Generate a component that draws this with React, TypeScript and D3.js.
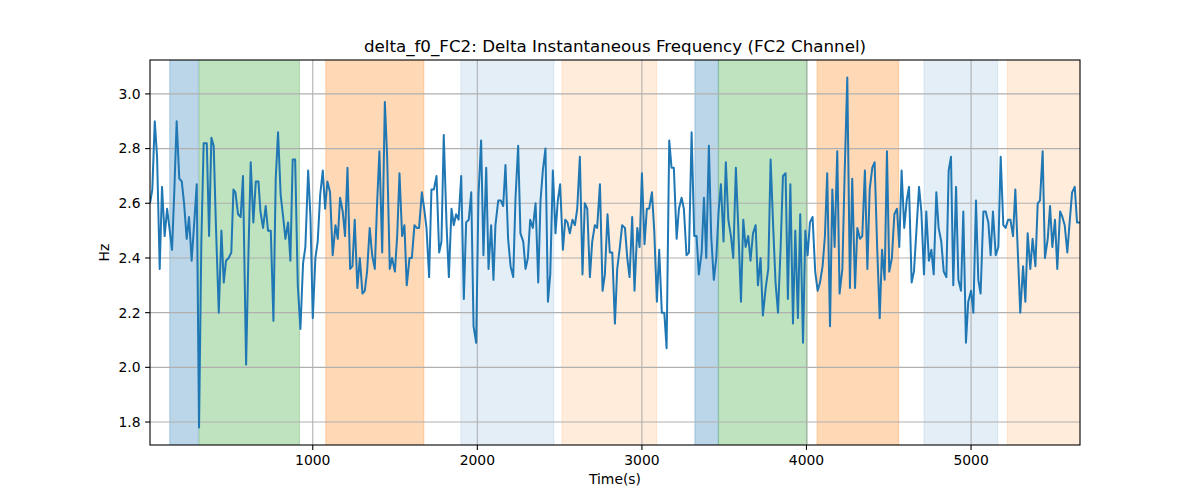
import React from "react";
import * as d3 from "d3";

const times: number[] = [
  11, 25, 40, 54, 70, 84, 100, 115, 129, 145, 159, 173, 189, 204, 218, 234, 248, 264, 281, 295,
  309, 323, 337, 356, 370, 384, 398, 412, 429, 445, 459, 473, 489, 505, 518, 530, 546, 562, 576, 595,
  609, 623, 639, 654, 670, 682, 698, 714, 728, 745, 761, 775, 789, 805, 820, 834, 850, 864, 878, 893,
  909, 925, 941, 955, 972, 986, 1000, 1016, 1030, 1045, 1061, 1075, 1089, 1105, 1121, 1138, 1152, 1166, 1182, 1196,
  1211, 1227, 1241, 1255, 1271, 1286, 1302, 1316, 1330, 1346, 1361, 1377, 1391, 1405, 1422, 1438, 1452, 1468, 1482, 1499,
  1513, 1527, 1543, 1557, 1571, 1588, 1602, 1618, 1632, 1646, 1663, 1677, 1691, 1707, 1721, 1736, 1752, 1768, 1782, 1796,
  1813, 1827, 1843, 1857, 1871, 1886, 1902, 1918, 1932, 1948, 1963, 1977, 1993, 2007, 2023, 2037, 2054, 2068, 2084, 2098,
  2110, 2127, 2143, 2157, 2171, 2187, 2202, 2218, 2232, 2248, 2262, 2279, 2293, 2307, 2321, 2337, 2354, 2370, 2384, 2398,
  2414, 2429, 2443, 2459, 2475, 2489, 2503, 2520, 2534, 2548, 2562, 2578, 2593, 2607, 2623, 2639, 2653, 2668, 2684, 2698,
  2714, 2728, 2745, 2761, 2775, 2791, 2805, 2820, 2836, 2850, 2866, 2880, 2897, 2911, 2925, 2941, 2955, 2972, 2986, 3000,
  3016, 3030, 3044, 3061, 3075, 3091, 3105, 3121, 3136, 3150, 3166, 3180, 3194, 3211, 3225, 3241, 3255, 3271, 3286, 3302,
  3318, 3332, 3346, 3363, 3377, 3391, 3407, 3421, 3437, 3452, 3466, 3480, 3496, 3510, 3525, 3541, 3555, 3571, 3585, 3602,
  3616, 3630, 3646, 3660, 3675, 3691, 3705, 3721, 3735, 3752, 3768, 3782, 3798, 3812, 3827, 3843, 3857, 3873, 3887, 3902,
  3918, 3932, 3948, 3962, 3979, 3993, 4007, 4021, 4037, 4053, 4068, 4082, 4098, 4112, 4126, 4143, 4157, 4171, 4187, 4201,
  4218, 4232, 4248, 4264, 4278, 4295, 4309, 4325, 4339, 4355, 4370, 4384, 4400, 4414, 4430, 4445, 4459, 4475, 4489, 4503,
  4519, 4534, 4550, 4564, 4578, 4594, 4609, 4623, 4639, 4653, 4669, 4684, 4698, 4714, 4728, 4744, 4759, 4773, 4789, 4803,
  4819, 4834, 4850, 4864, 4878, 4892, 4909, 4923, 4939, 4953, 4969, 4983, 5000, 5014, 5030, 5044, 5058, 5075, 5089, 5105,
  5119, 5133, 5150, 5166, 5180, 5196, 5210, 5225, 5239, 5255, 5269, 5285, 5299, 5316, 5330, 5344, 5360, 5374, 5391, 5405,
  5419, 5435, 5449, 5466, 5480, 5494, 5510, 5524, 5541, 5555, 5569, 5585, 5599, 5614, 5630, 5644, 5662,
];

const values: number[] = [
  2.60, 2.65, 2.90, 2.77, 2.36, 2.66, 2.48, 2.58, 2.51, 2.43, 2.65, 2.90, 2.69, 2.68, 2.60, 2.47, 2.55, 2.39, 2.54, 2.67,
  1.78, 2.46, 2.82, 2.82, 2.48, 2.84, 2.81, 2.51, 2.20, 2.50, 2.31, 2.39, 2.40, 2.42, 2.65, 2.64, 2.56, 2.55, 2.70, 2.01,
  2.41, 2.75, 2.53, 2.68, 2.68, 2.57, 2.51, 2.59, 2.50, 2.50, 2.17, 2.69, 2.86, 2.63, 2.55, 2.47, 2.53, 2.39, 2.76, 2.76,
  2.30, 2.14, 2.38, 2.44, 2.72, 2.55, 2.18, 2.40, 2.46, 2.63, 2.72, 2.58, 2.68, 2.64, 2.41, 2.52, 2.47, 2.62, 2.57, 2.48,
  2.73, 2.36, 2.37, 2.54, 2.29, 2.40, 2.27, 2.28, 2.35, 2.51, 2.41, 2.36, 2.60, 2.79, 2.42, 2.97, 2.77, 2.36, 2.40, 2.35,
  2.48, 2.71, 2.48, 2.52, 2.30, 2.40, 2.40, 2.52, 2.51, 2.51, 2.64, 2.58, 2.51, 2.33, 2.65, 2.65, 2.70, 2.42, 2.46, 2.85,
  2.52, 2.33, 2.58, 2.52, 2.56, 2.54, 2.70, 2.25, 2.53, 2.54, 2.64, 2.15, 2.09, 2.63, 2.83, 2.41, 2.73, 2.36, 2.52, 2.32,
  2.52, 2.61, 2.61, 2.59, 2.74, 2.47, 2.37, 2.33, 2.62, 2.81, 2.49, 2.46, 2.36, 2.40, 2.54, 2.51, 2.60, 2.31, 2.61, 2.72,
  2.80, 2.24, 2.34, 2.72, 2.49, 2.61, 2.67, 2.43, 2.54, 2.53, 2.49, 2.54, 2.52, 2.58, 2.77, 2.34, 2.60, 2.58, 2.33, 2.46,
  2.52, 2.51, 2.67, 2.28, 2.34, 2.56, 2.42, 2.42, 2.16, 2.36, 2.44, 2.52, 2.51, 2.40, 2.33, 2.55, 2.28, 2.51, 2.44, 2.71,
  2.45, 2.58, 2.58, 2.64, 2.50, 2.24, 2.43, 2.20, 2.20, 2.07, 2.83, 2.73, 2.73, 2.47, 2.58, 2.62, 2.58, 2.41, 2.42, 2.86,
  2.48, 2.48, 2.34, 2.42, 2.62, 2.40, 2.81, 2.48, 2.32, 2.40, 2.57, 2.67, 2.46, 2.75, 2.54, 2.48, 2.40, 2.73, 2.52, 2.24,
  2.54, 2.44, 2.48, 2.39, 2.49, 2.52, 2.30, 2.40, 2.19, 2.29, 2.36, 2.76, 2.51, 2.31, 2.20, 2.44, 2.70, 2.71, 2.25, 2.67,
  2.16, 2.50, 2.18, 2.56, 2.09, 2.50, 2.41, 2.53, 2.55, 2.35, 2.28, 2.31, 2.37, 2.48, 2.71, 2.15, 2.65, 2.44, 2.79, 2.27,
  2.36, 2.71, 3.06, 2.29, 2.69, 2.29, 2.51, 2.47, 2.48, 2.72, 2.36, 2.65, 2.73, 2.75, 2.43, 2.18, 2.43, 2.32, 2.79, 2.35,
  2.40, 2.56, 2.58, 2.44, 2.72, 2.51, 2.61, 2.66, 2.31, 2.35, 2.51, 2.66, 2.57, 2.34, 2.57, 2.39, 2.43, 2.34, 2.64, 2.51,
  2.46, 2.35, 2.33, 2.72, 2.77, 2.30, 2.66, 2.32, 2.28, 2.57, 2.09, 2.24, 2.28, 2.20, 2.61, 2.32, 2.27, 2.57, 2.57, 2.53,
  2.41, 2.57, 2.41, 2.44, 2.77, 2.52, 2.51, 2.54, 2.54, 2.48, 2.65, 2.41, 2.20, 2.37, 2.24, 2.49, 2.36, 2.47, 2.37, 2.60,
  2.61, 2.79, 2.40, 2.47, 2.59, 2.44, 2.54, 2.36, 2.57, 2.55, 2.52, 2.42, 2.53, 2.64, 2.66, 2.53, 2.53,
];

// shaded intervals
const spanStarts: number[] = [131, 311, 1079, 1900, 2514, 3322, 3466, 4064, 4714, 5221];
const spanEnds: number[] = [305, 919, 1675, 2465, 3089, 3464, 4005, 4560, 5162, 5700];
const spanColors: string[] = [
  "#1f77b4", "#2ca02c", "#ff7f0e", "#1f77b4", "#ff7f0e",
  "#1f77b4", "#2ca02c", "#ff7f0e", "#1f77b4", "#ff7f0e",
];
const spanOpacities: number[] = [0.3, 0.3, 0.3, 0.12, 0.15, 0.3, 0.3, 0.3, 0.12, 0.15];

const xTicks: number[] = [1000, 2000, 3000, 4000, 5000];
const yTicks: number[] = [1.8, 2.0, 2.2, 2.4, 2.6, 2.8, 3.0];

const W = 1200;
const H = 500;
const M = { left: 150, right: 120, top: 60, bottom: 55 };

export default function App() {
  const iw = W - M.left - M.right;
  const ih = H - M.top - M.bottom;
  const tMin = d3.min(times) as number;
  const tMax = d3.max(times) as number;
  const vMin = d3.min(values) as number;
  const vMax = d3.max(values) as number;
  const pad = (vMax - vMin) * 0.05;
  const x = d3.scaleLinear().domain([tMin, tMax]).range([0, iw]);
  const y = d3.scaleLinear().domain([vMin - pad, vMax + pad]).range([ih, 0]);
  const pts: [number, number][] = times.map((t, i) => [t, values[i]]);
  const line = d3
    .line<[number, number]>()
    .x((d) => x(d[0]))
    .y((d) => y(d[1]));
  const font = "DejaVu Sans, sans-serif";
  return (
    <svg width={W} height={H} style={{ display: "block", position: "absolute", left: 0, top: 0 }} fontFamily={font}>
      <rect x={0} y={0} width={W} height={H} fill="#fff" />
      <defs>
        <clipPath id="plotclip">
          <rect x={0} y={0} width={iw} height={ih} />
        </clipPath>
      </defs>
      <g transform={`translate(${M.left},${M.top})`}>
        <g clipPath="url(#plotclip)">
          {spanStarts.map((s, i) => {
            const x0 = x(s);
            const x1 = Math.min(x(spanEnds[i]), iw + 5);
            return (
              <rect
                key={i}
                x={x0}
                y={-5}
                width={x1 - x0}
                height={ih + 10}
                fill={spanColors[i]}
                fillOpacity={spanOpacities[i]}
                stroke={spanColors[i]}
                strokeOpacity={spanOpacities[i]}
                strokeWidth={1}
              />
            );
          })}
          {xTicks.map((t) => (
            <line key={"gx" + t} x1={x(t)} x2={x(t)} y1={0} y2={ih} stroke="#b0b0b0" strokeWidth={1.1} />
          ))}
          {yTicks.map((v) => (
            <line key={"gy" + v} x1={0} x2={iw} y1={y(v)} y2={y(v)} stroke="#b0b0b0" strokeWidth={1.1} />
          ))}
          <path d={line(pts) || ""} fill="none" stroke="#1f77b4" strokeWidth={2} strokeLinejoin="round" strokeLinecap="butt" />
        </g>
        <rect x={0} y={0} width={iw} height={ih} fill="none" stroke="#000" strokeWidth={1.1} />
        {xTicks.map((t) => (
          <g key={"tx" + t} transform={`translate(${x(t)},${ih})`}>
            <line y1={0} y2={4.9} stroke="#000" strokeWidth={1.1} />
            <text y={20} textAnchor="middle" fontSize={13.9} fill="#000">
              {t}
            </text>
          </g>
        ))}
        {yTicks.map((v) => (
          <g key={"ty" + v} transform={`translate(0,${y(v)})`}>
            <line x1={-4.9} x2={0} stroke="#000" strokeWidth={1.1} />
            <text x={-9.5} dy="0.35em" textAnchor="end" fontSize={13.9} fill="#000">
              {v.toFixed(1)}
            </text>
          </g>
        ))}
        <text x={iw / 2} y={ih + 39} textAnchor="middle" fontSize={13.9} fill="#000">
          Time(s)
        </text>
        <text
          transform={`translate(${-41},${ih / 2}) rotate(-90)`}
          textAnchor="middle"
          fontSize={13.9}
          fill="#000"
        >
          Hz
        </text>
        <text x={iw / 2} y={-8} textAnchor="middle" fontSize={16.7} fill="#000">
          delta_f0_FC2: Delta Instantaneous Frequency (FC2 Channel)
        </text>
      </g>
    </svg>
  );
}
